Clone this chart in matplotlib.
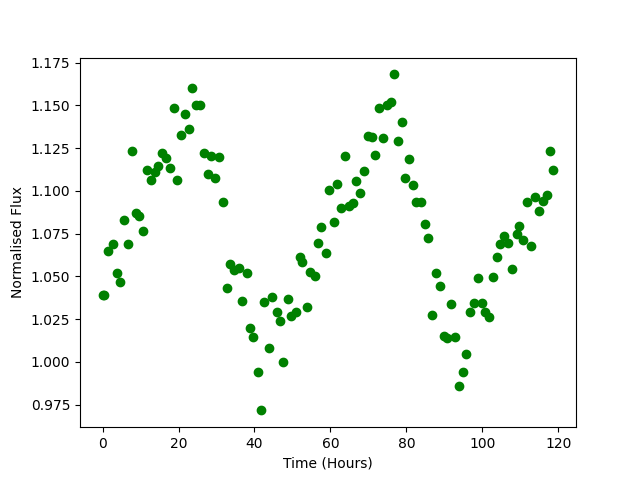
import matplotlib
matplotlib.use("Agg")
import matplotlib.pyplot as plt

time_hours = [0.0, 0.5, 1.5, 2.7, 3.7, 4.5, 5.6, 6.6, 7.7, 8.7,
              9.6, 10.6, 11.6, 12.8, 13.7, 14.6, 15.7, 16.7, 17.7, 18.8,
              19.6, 20.7, 21.7, 22.8, 23.6, 24.6, 25.7, 26.6, 27.7, 28.6,
              29.6, 30.7, 31.6, 32.8, 33.5, 34.5, 35.8, 36.8, 37.9, 38.7,
              39.7, 40.8, 41.8, 42.5, 43.7, 44.7, 45.8, 46.8, 47.6, 48.7,
              49.7, 50.9, 51.9, 52.6, 53.7, 54.6, 55.9, 56.8, 57.6, 58.8,
              59.7, 60.9, 61.7, 62.7, 63.8, 64.8, 65.9, 66.7, 67.7, 68.8,
              69.8, 70.9, 71.7, 72.7, 73.8, 74.8, 75.9, 76.6, 77.7, 78.8,
              79.7, 80.6, 81.7, 82.6, 83.8, 84.8, 85.7, 86.7, 87.8, 88.9,
              89.8, 90.8, 91.7, 92.9, 93.9, 94.8, 95.7, 96.8, 97.7, 98.9,
              99.8, 100.7, 101.7, 102.8, 103.9, 104.6, 105.7, 106.8, 107.8, 109.0,
              109.7, 110.8, 111.8, 112.9, 113.9, 114.8, 115.9, 116.9, 117.9, 118.7]

flux = [1.0393, 1.0393, 1.0650, 1.0687, 1.0522, 1.0469, 1.0832, 1.0691, 1.1235, 1.0868,
        1.0855, 1.0767, 1.1124, 1.1065, 1.1112, 1.1143, 1.1223, 1.1194, 1.1136, 1.1487,
        1.1065, 1.1329, 1.1451, 1.1364, 1.1604, 1.1504, 1.1504, 1.1223, 1.1101, 1.1206,
        1.1077, 1.1200, 1.0937, 1.0434, 1.0570, 1.0537, 1.0551, 1.0358, 1.0518, 1.0196,
        1.0147, 0.9943, 0.9716, 1.0352, 1.0083, 1.0377, 1.0289, 1.0241, 1.0001, 1.0365,
        1.0270, 1.0294, 1.0615, 1.0586, 1.0323, 1.0527, 1.0504, 1.0693, 1.0791, 1.0639,
        1.1005, 1.0820, 1.1038, 1.0899, 1.1206, 1.0913, 1.0931, 1.1060, 1.0989, 1.1118,
        1.1323, 1.1317, 1.1212, 1.1487, 1.1311, 1.1504, 1.1522, 1.1681, 1.1294, 1.1405,
        1.1078, 1.1188, 1.1036, 1.0937, 1.0937, 1.0804, 1.0726, 1.0276, 1.0518, 1.0446,
        1.0151, 1.0137, 1.0336, 1.0143, 0.9861, 0.9939, 1.0044, 1.0294, 1.0342, 1.0488,
        1.0342, 1.0289, 1.0260, 1.0494, 1.0615, 1.0687, 1.0736, 1.0693, 1.0545, 1.0750,
        1.0796, 1.0711, 1.0937, 1.0680, 1.0962, 1.0884, 1.0939, 1.0974, 1.1235, 1.1124]

fig, ax = plt.subplots(figsize=(6.4, 4.8), dpi=100)
ax.plot(time_hours, flux, 'o', color='green')
ax.set_xlabel("Time (Hours)")
ax.set_ylabel("Normalised Flux")
fig.savefig("out.png", dpi=100)
